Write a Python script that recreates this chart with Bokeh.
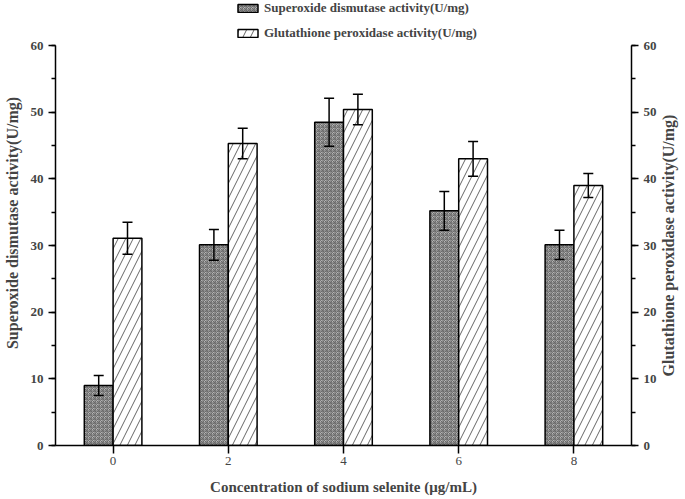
import math
from bokeh.plotting import figure
from bokeh.layouts import row
from bokeh.models import (ColumnDataSource, Range1d, LinearAxis, Whisker, Legend, LegendItem,
                          FixedTicker, SingleIntervalTicker, Label)
from bokeh.embed import file_html
from bokeh.resources import INLINE

conc = [0, 2, 4, 6, 8]
sod = [9.0, 30.1, 48.5, 35.2, 30.1]
sod_err = [1.5, 2.3, 3.6, 2.9, 2.2]
gpx = [31.1, 45.3, 50.4, 43.0, 39.0]
gpx_err = [2.4, 2.3, 2.3, 2.6, 1.8]
y_ticks_max = 60

FONT = "Liberation Serif"

# frame reaches above the 60 mark so the legend can sit on top of the axes
FRAME_H = 445
AXIS_TOP_PX = 45
BOTTOM = 54
y_end = y_ticks_max * FRAME_H / (FRAME_H - AXIS_TOP_PX)

sod_x = [c - 0.25 for c in conc]
gpx_x = [c + 0.25 for c in conc]
src_s = ColumnDataSource(dict(x=sod_x, top=sod, lo=[v - e for v, e in zip(sod, sod_err)],
                              hi=[v + e for v, e in zip(sod, sod_err)]))
src_g = ColumnDataSource(dict(x=gpx_x, top=gpx, lo=[v - e for v, e in zip(gpx, gpx_err)],
                              hi=[v + e for v, e in zip(gpx, gpx_err)]))

p = figure(frame_width=576, frame_height=FRAME_H, output_backend="svg", toolbar_location=None,
           x_range=Range1d(-1, 9), y_range=Range1d(0, y_end),
           min_border_left=53, min_border_right=26, min_border_top=0, min_border_bottom=BOTTOM)
p.outline_line_color = None
p.xgrid.visible = False
p.ygrid.visible = False
p.background_fill_color = "white"

r1 = p.vbar(x="x", top="top", width=0.5, source=src_s, fill_color="#b4b4b4",
            hatch_pattern="criss_cross", hatch_color="#6a6a6a", hatch_scale=4, hatch_weight=1,
            line_color="black", line_width=1.5)
r2 = p.vbar(x="x", top="top", width=0.5, source=src_g, fill_color="white",
            hatch_pattern="right_diagonal_line", hatch_color="#555555", hatch_scale=15,
            hatch_weight=0.9, line_color="black", line_width=1.5)

for src in (src_s, src_g):
    w = Whisker(source=src, base="x", lower="lo", upper="hi", line_color="black",
                line_width=1.5, level="overlay")
    w.upper_head.size = 10
    w.lower_head.size = 10
    w.upper_head.line_width = 1.5
    w.lower_head.line_width = 1.5
    p.add_layout(w)

# x axis
xa = p.xaxis[0]
xa.ticker = FixedTicker(ticks=conc)
xa.axis_label = "Concentration of sodium selenite (μg/mL)"
xa.axis_label_text_font = FONT
xa.axis_label_text_font_style = "bold"
xa.axis_label_text_font_size = "15px"
xa.major_label_text_font = FONT
xa.major_label_text_font_size = "13px"
xa.major_tick_out = 8
xa.major_tick_in = 0
xa.minor_tick_out = 0
xa.axis_line_width = 1.5
xa.major_tick_line_width = 1.5
xa.major_label_standoff = 3
xa.axis_label_standoff = 11

ya = p.yaxis[0]
ya.ticker = SingleIntervalTicker(interval=10, num_minor_ticks=2)
ya.axis_label = "Superoxide dismutase activity(U/mg)"
ya.axis_label_standoff = 7

p.extra_y_ranges = {"r": Range1d(0, y_end)}
ra = LinearAxis(y_range_name="r", ticker=SingleIntervalTicker(interval=10, num_minor_ticks=2))
p.add_layout(ra, "right")

for ax in (ya, ra):
    ax.bounds = (0, y_ticks_max)
    ax.axis_label_text_font = FONT
    ax.axis_label_text_font_style = "bold"
    ax.axis_label_text_font_size = "16px"
    ax.major_label_text_font = FONT
    ax.major_label_text_font_style = "bold"
    ax.major_label_text_font_size = "13px"
    ax.major_tick_out = 7
    ax.major_tick_in = 0
    ax.minor_tick_out = 4
    ax.minor_tick_in = 0
    ax.axis_line_width = 1.5
    ax.major_tick_line_width = 1.5
    ax.minor_tick_line_width = 1.5
    ax.major_label_standoff = 5

legend = Legend(items=[LegendItem(label="Superoxide dismutase activity(U/mg)", renderers=[r1]),
                       LegendItem(label="Glutathione peroxidase activity(U/mg)", renderers=[r2])],
                location=(180, 404), orientation="vertical", border_line_color=None,
                background_fill_alpha=0, padding=0, margin=0, spacing=9,
                glyph_width=25, glyph_height=10, label_height=10, label_standoff=4,
                label_text_font=FONT, label_text_font_style="bold", label_text_font_size="13px")
p.add_layout(legend, "center")

# narrow strip on the right holding the right-hand axis title (reads bottom to top)
p2 = figure(frame_width=30, frame_height=FRAME_H, output_backend="svg", toolbar_location=None,
            x_range=Range1d(0, 1), y_range=p.y_range,
            min_border_left=0, min_border_right=0, min_border_top=0, min_border_bottom=BOTTOM,
            x_axis_location=None, y_axis_location=None)
p2.outline_line_color = None
p2.xgrid.visible = False
p2.ygrid.visible = False
p2.add_layout(Label(x=0.3, y=y_ticks_max / 2, text="Glutathione peroxidase activity(U/mg)",
                    angle=math.pi / 2, text_align="center", text_baseline="middle",
                    text_font=FONT, text_font_style="bold", text_font_size="16px"))

layout = row(p, p2, spacing=0)
open("out.html", "w").write(file_html(layout, INLINE))
